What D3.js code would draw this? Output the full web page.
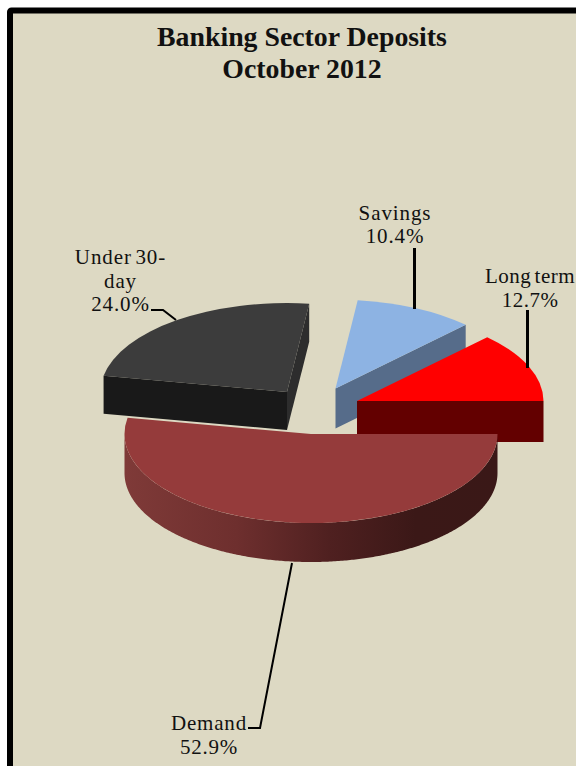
<!DOCTYPE html>
<html>
<head>
<meta charset="utf-8">
<style>
html, body { margin: 0; padding: 0; background: #fff; overflow: hidden; }
svg { display: block; }
text { font-family: "Liberation Serif", serif; fill: #111; }
</style>
<script src="https://cdn.jsdelivr.net/npm/d3@7/dist/d3.min.js"></script>
</head>
<body>
<svg id="chart" width="576" height="766"></svg>
<script>
// Share of deposits by type, in percent
const categories = ["Demand", "Under 30-day", "Savings", "Long term"];
const shares = [52.9, 24.0, 10.4, 12.7];
const titleLines = ["Banking Sector Deposits", "October 2012"];

// Slice colours: top face and the darker radial wall
const topColors = ["#953b3b", "#3c3c3c", "#8db3e3", "#ff0000"];
const wallColors = ["#3a1817", "#191919", "#566c8a", "#630000"];

// Projected centre and wall height of each exploded slice
const centres = [[311, 434], [287, 392], [335.5, 388.5], [357, 401]];
const depths = [39, 38, 40, 41];
const rx = 186.5, ry = 89;

const svg = d3.select("#chart");

// Background panel with a heavy frame running off the right and bottom edges
svg.append("rect")
  .attr("x", 10).attr("y", 10.5).attr("width", 700).attr("height", 900).attr("rx", 1.5)
  .attr("fill", "#ddd9c3").attr("stroke", "#000").attr("stroke-width", 6);

const defs = svg.append("defs");
const grad = defs.append("linearGradient").attr("id", "demandSide")
  .attr("gradientUnits", "userSpaceOnUse")
  .attr("x1", centres[0][0] - rx).attr("x2", centres[0][0] + rx).attr("y1", 0).attr("y2", 0);
[[0, "#7f3a38"], [0.3, "#6e2f2e"], [0.55, "#4f2020"], [0.78, "#3b1817"], [1, "#3a1817"]]
  .forEach(([o, c]) => grad.append("stop").attr("offset", o).attr("stop-color", c));

// Pie runs clockwise from due east, Demand first
const pie = d3.pie().value(d => d).sort(null)
  .startAngle(Math.PI / 2).endAngle(Math.PI * 2.5);
const slices = pie(shares);
const arc = d3.arc().innerRadius(0).outerRadius(rx);

// Map a pie angle (0 = north, clockwise) onto the tilted ellipse
const px = (i, a) => centres[i][0] + rx * Math.sin(a);
const py = (i, a) => centres[i][1] - ry * Math.cos(a);
const line = d3.line();

// Back-to-front: Under 30-day, Savings, Long term, then Demand in front
const order = [1, 2, 3, 0];
order.forEach(i => {
  const s = slices[i];
  const [cx, cy] = centres[i];
  const depth = depths[i];
  const g = svg.append("g").attr("class", "slice");

  const radialWall = a => [[cx, cy], [px(i, a), py(i, a)],
    [px(i, a), py(i, a) + depth], [cx, cy + depth]];

  if (i === 1) {
    // Right-facing wall along the trailing edge, then the front wall
    g.append("path").attr("d", line(radialWall(s.endAngle)) + "Z").attr("fill", "#2d2d2d");
    g.append("path").attr("d", line(radialWall(s.startAngle)) + "Z").attr("fill", wallColors[i]);
  } else if (i === 2 || i === 3) {
    g.append("path").attr("d", line(radialWall(s.endAngle)) + "Z").attr("fill", wallColors[i]);
  } else {
    // Curved outer wall of the lower half of the ellipse
    const angles = d3.range(s.startAngle, Math.min(s.endAngle, Math.PI * 1.5), 0.01)
      .concat(Math.PI * 1.5);
    const upper = angles.map(a => [px(i, a), py(i, a)]);
    const lower = angles.slice().reverse().map(a => [px(i, a), py(i, a) + depth]);
    g.append("path").attr("d", line(upper.concat(lower)) + "Z").attr("fill", "url(#demandSide)");
  }

  g.append("path")
    .attr("d", arc(s))
    .attr("transform", `translate(${cx},${cy}) scale(1,${ry / rx})`)
    .attr("fill", topColors[i]);
});

// Leader lines from labels to slices
const leaders = [
  { pts: [[292, 563], [260, 728], [248, 728]], w: 2 },
  { pts: [[151, 310], [163, 310], [176, 320]], w: 2 },
  { pts: [[414.5, 248], [414.5, 309]], w: 3 },
  { pts: [[527.5, 310], [527.5, 368]], w: 3 }
];
leaders.forEach(l => svg.append("path")
  .attr("d", line(l.pts)).attr("fill", "none")
  .attr("stroke", "#000").attr("stroke-width", l.w));

// Title
svg.selectAll("text.title").data(titleLines).join("text")
  .attr("class", "title")
  .attr("x", 302).attr("y", (d, i) => 46 + i * 32)
  .attr("text-anchor", "middle")
  .attr("font-size", 27.8).attr("font-weight", "bold")
  .text(d => d);

// Slice labels: name lines followed by the share
const labelLines = [
  { x: 209, y: 730, lines: [categories[0]], dy: 24, spacing: 0.8 },
  { x: 120.5, y: 264, lines: ["Under 30-", "day"], dy: 23.5, spacing: 0.9 },
  { x: 395, y: 220, lines: [categories[2]], dy: 23, spacing: 0.9 },
  { x: 530, y: 283, lines: [categories[3]], dy: 24, spacing: 0.5 }
];
labelLines.forEach((l, i) => {
  const all = l.lines.concat(shares[i].toFixed(1) + "%");
  svg.selectAll(null).data(all).join("text")
    .attr("x", l.x).attr("y", (d, k) => l.y + k * l.dy)
    .attr("text-anchor", "middle")
    .attr("font-size", 21)
    .attr("letter-spacing", l.spacing)
    .attr("word-spacing", -2.5)
    .text(d => d);
});
</script>
</body>
</html>
